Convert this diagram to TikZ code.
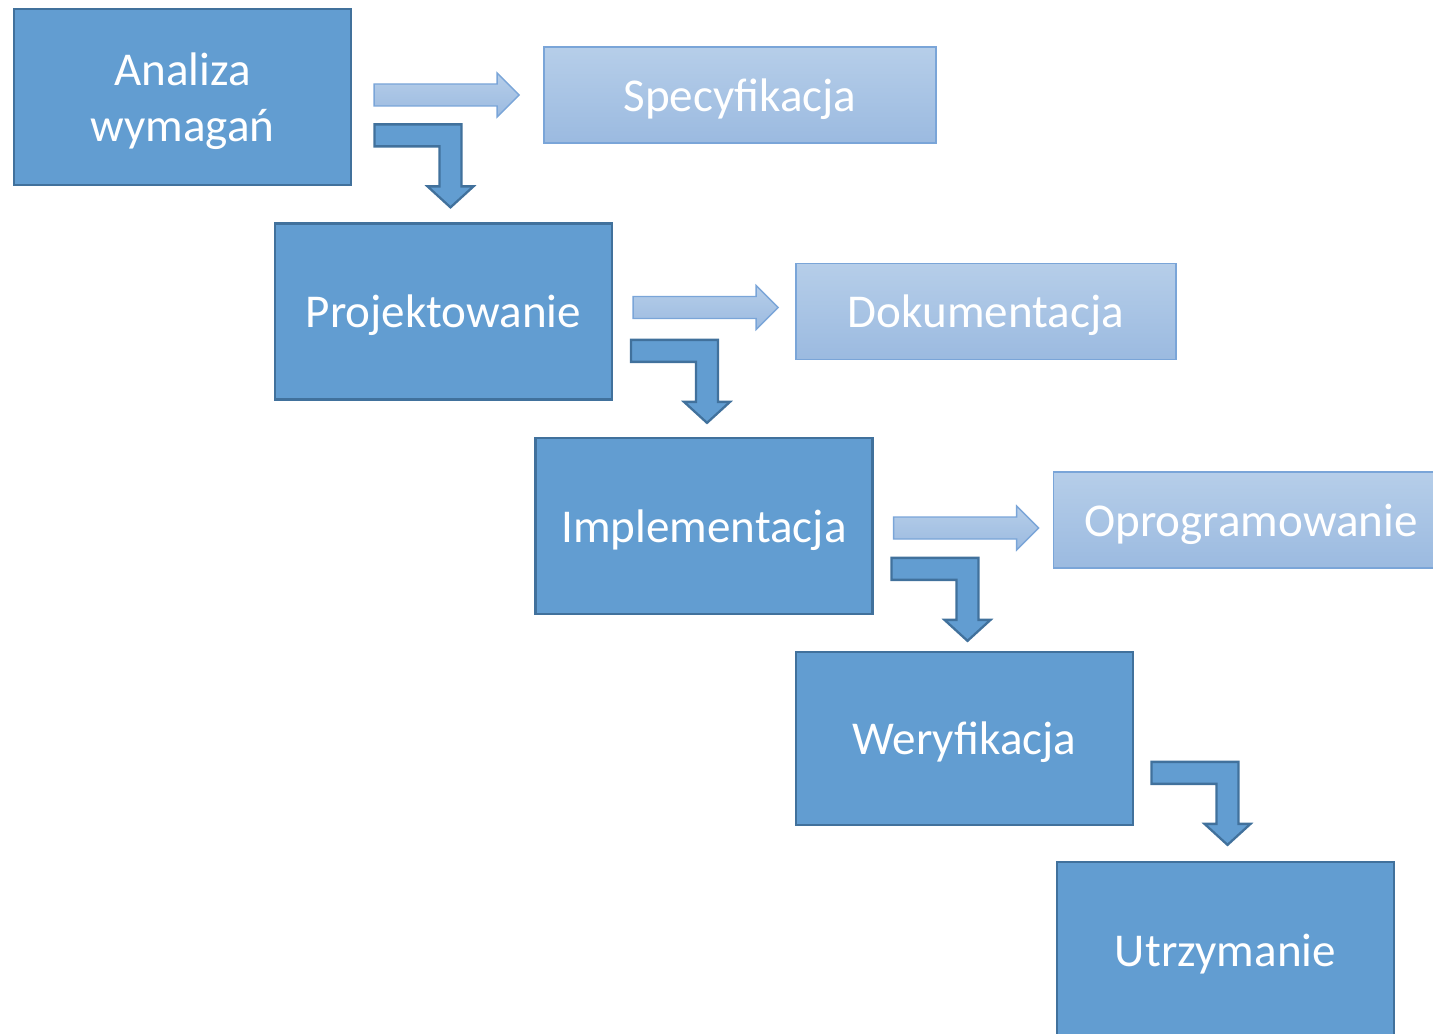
\documentclass[tikz,border=0pt]{standalone}
\usepackage{fontspec}
\setmainfont{Carlito}
\usetikzlibrary{calc}
\definecolor{boxblue}{RGB}{98,157,209}
\definecolor{boxedge}{RGB}{65,113,156}
\definecolor{paletop}{RGB}{182,206,233}
\definecolor{palebot}{RGB}{155,186,224}
\definecolor{paleedge}{RGB}{122,165,216}
\tikzset{
    phase/.style={draw=boxedge, line width=1.3pt, fill=boxblue, text=white,
        minimum width=6.74cm, minimum height=3.52cm, align=center, text depth=0pt,
        font=\fontsize{26.8}{32}\selectfont},
    result/.style={draw=paleedge, line width=0.8pt, top color=paletop, bottom color=palebot,
        text=white, minimum height=1.92cm, text depth=0pt, font=\fontsize{26.8}{32}\selectfont},
    flatarrow/.style={draw=paleedge, line width=0.8pt, top color=paletop, bottom color=palebot, line join=miter},
    bentarrow/.style={draw=boxedge, line width=1.3pt, fill=boxblue, line join=miter},
}
\begin{document}
\begin{tikzpicture}[x=0.02cm, y=-0.02cm]
    \useasboundingbox (0,0) rectangle (1433,1034);
    \clip (0,0) rectangle (1433,1034);

    \node[phase] (ana) at (182.5,97) {Analiza\\wymagań};
    \node[phase] (proj) at (443.5,311.5) {Projektowanie};
    \node[phase] (impl) at (704,526) {Implementacja};
    \node[phase, minimum height=3.46cm] (weryf) at (964.5,738.5) {Weryfikacja};
    \node[phase] (utrz) at (1225.5,950) {Utrzymanie};

    \node[result, minimum width=7.84cm] (spec) at (740,95) {Specyfikacja};
    \node[result, minimum width=7.6cm] (dok) at (986,311.5) {Dokumentacja};
    \node[result, minimum width=7.9cm] (oprog) at (1251,520) {Oprogramowanie};

    \draw[flatarrow] ($(ana.east)+(22,-13)$) -- ++(123,0) -- ++(0,-11) -- ++(22,22) -- ++(-22,22) -- ++(0,-11) -- ++(-123,0) -- cycle;
    \draw[flatarrow] ($(proj.east)+(20,-15)$) -- ++(123,0) -- ++(0,-11) -- ++(22,22) -- ++(-22,22) -- ++(0,-11) -- ++(-123,0) -- cycle;
    \draw[flatarrow] ($(impl.east)+(20,-9)$) -- ++(123,0) -- ++(0,-11) -- ++(22,22) -- ++(-22,22) -- ++(0,-11) -- ++(-123,0) -- cycle;

    \draw[bentarrow] ($(proj.north)+(-69,-98)$) -- ++(87,0) -- ++(0,62) -- ++(12,0) -- ++(-23,21) -- ++(-23,-21) -- ++(12,0) -- ++(0,-40) -- ++(-65,0) -- cycle;
    \draw[bentarrow] ($(impl.north)+(-73,-97)$) -- ++(87,0) -- ++(0,62) -- ++(12,0) -- ++(-23,21) -- ++(-23,-21) -- ++(12,0) -- ++(0,-40) -- ++(-65,0) -- cycle;
    \draw[bentarrow] ($(weryf.north)+(-73,-93)$) -- ++(87,0) -- ++(0,62) -- ++(12,0) -- ++(-23,21) -- ++(-23,-21) -- ++(12,0) -- ++(0,-40) -- ++(-65,0) -- cycle;
    \draw[bentarrow] ($(utrz.north)+(-74,-99)$) -- ++(87,0) -- ++(0,62) -- ++(12,0) -- ++(-23,21) -- ++(-23,-21) -- ++(12,0) -- ++(0,-40) -- ++(-65,0) -- cycle;

\end{tikzpicture}
\end{document}
